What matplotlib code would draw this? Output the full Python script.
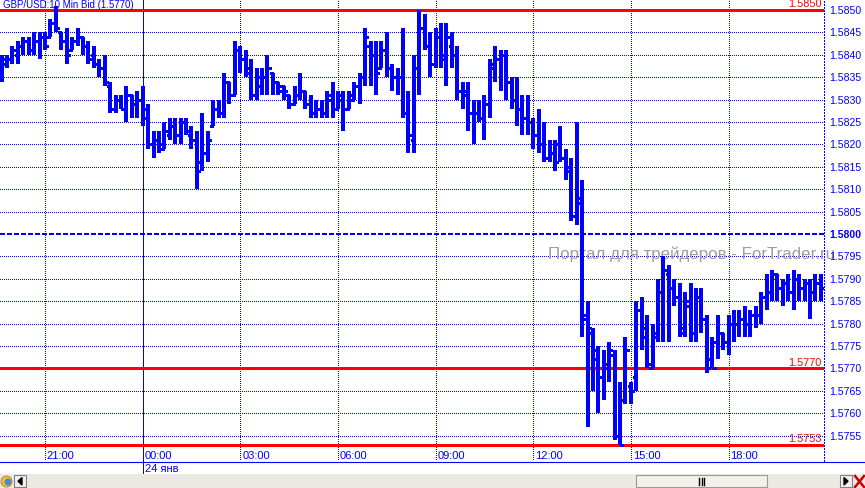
import matplotlib
matplotlib.use('Agg')
import matplotlib.pyplot as plt
import numpy as np
from matplotlib.patches import Rectangle, Polygon, Circle

plt.rcParams['font.family'] = ['Liberation Sans', 'DejaVu Sans']

# GBP/USD 10 min bid bars, 19:40 on 23 Jan to 20:50 on 24 Jan
# prices kept as pips above 1.5800
base = 1.5800
open_pips = [36, 38, 39, 40, 42, 43, 41, 43, 44, 44, 47, 45, 43, 41, 43, 44, 42, 40, 38, 37,
             33, 28, 30, 28, 31, 29, 30, 26, 20, 21, 19, 22, 24, 22, 25, 22, 21, 16, 18, 24,
             28, 27, 34, 31, 41, 39, 37, 31, 33, 35, 36, 34, 33, 31, 29, 31, 32, 29, 27, 28,
             27, 30, 28, 30, 28, 30, 33, 35, 42, 40, 37, 41, 37, 35, 35, 27, 21, 37, 46, 42,
             38, 44, 40, 42, 40, 32, 32, 27, 27, 26, 29, 38, 39, 40, 34, 30, 28, 26, 25, 22,
             20, 17, 18, 20, 17, 15, 4, 8, -18, -22, -28, -32, -29, -27, -45, -37, -34, -32, -17, -23,
             -30, -23, -13, -9, -12, -14, -21, -16, -22, -14, -19, -28, -24, -22, -24, -20, -20, -19, -20, -18,
             -18, -14, -13, -9, -12, -11, -13, -10, -12, -11, -13, -11]
high_pips = [40, 40, 42, 43, 44, 44, 45, 45, 45, 48, 51, 45, 46, 44, 46, 44, 43, 42, 39, 40,
             34, 31, 31, 33, 31, 32, 33, 29, 23, 23, 25, 26, 26, 26, 26, 24, 23, 27, 23, 30,
             30, 36, 34, 43, 42, 41, 39, 37, 37, 40, 36, 34, 33, 31, 33, 36, 32, 31, 30, 30,
             32, 34, 32, 32, 32, 34, 36, 46, 43, 43, 43, 45, 38, 37, 46, 32, 40, 50, 49, 45,
             46, 47, 47, 45, 42, 34, 34, 30, 30, 31, 39, 42, 41, 41, 35, 35, 31, 31, 26, 28,
             25, 21, 21, 24, 19, 17, 25, 12, -15, -21, -25, -26, -24, -26, -33, -23, -33, -15, -14, -18,
             -20, -10, -5, -7, -10, -11, -13, -11, -12, -12, -18, -23, -18, -22, -18, -17, -17, -16, -17, -16,
             -13, -9, -8, -9, -10, -9, -8, -9, -10, -10, -9, -9]
low_pips = [34, 37, 38, 38, 40, 40, 40, 39, 41, 44, 45, 41, 38, 41, 42, 40, 38, 37, 35, 33,
            27, 27, 28, 25, 26, 26, 24, 19, 17, 18, 19, 21, 20, 20, 22, 19, 10, 14, 16, 24,
            26, 26, 29, 31, 36, 35, 30, 30, 31, 31, 31, 31, 30, 28, 29, 30, 28, 26, 26, 26,
            26, 26, 28, 23, 28, 30, 29, 33, 33, 31, 37, 35, 32, 31, 26, 18, 18, 31, 41, 35,
            37, 37, 33, 37, 30, 28, 23, 20, 25, 21, 26, 34, 32, 30, 28, 24, 22, 22, 19, 18,
            16, 16, 14, 16, 12, 3, 2, -23, -43, -35, -40, -37, -33, -46, -47, -38, -38, -35, -26, -30,
            -30, -24, -24, -24, -16, -23, -23, -24, -24, -22, -31, -30, -28, -26, -27, -24, -23, -23, -23, -21,
            -20, -17, -15, -15, -16, -15, -17, -15, -15, -19, -15, -15]
close_pips = [39, 39, 41, 42, 43, 41, 43, 44, 42, 47, 46, 43, 40, 43, 44, 42, 39, 38, 37, 34,
              28, 30, 28, 31, 29, 30, 28, 20, 21, 20, 23, 24, 22, 25, 23, 21, 14, 18, 21, 28,
              27, 34, 31, 41, 39, 36, 31, 35, 35, 37, 34, 32, 32, 29, 31, 32, 29, 27, 28, 27,
              31, 28, 31, 28, 31, 33, 35, 44, 40, 36, 41, 37, 35, 35, 27, 22, 37, 46, 42, 38,
              44, 39, 44, 40, 32, 31, 27, 27, 26, 29, 37, 39, 40, 34, 30, 28, 26, 25, 22, 20,
              17, 18, 16, 17, 14, 4, 7, -19, -21, -26, -32, -30, -26, -45, -47, -26, -35, -17, -21, -29,
              -22, -13, -8, -12, -14, -22, -15, -22, -14, -19, -30, -30, -22, -24, -20, -20, -19, -20, -18, -18,
              -14, -13, -9, -12, -11, -13, -10, -12, -11, -13, -11, -12]

time_ticks = [8, 26, 44, 62, 80, 98, 116, 134]
time_labels = ['21:00', '00:00', '03:00', '06:00', '09:00', '12:00', '15:00', '18:00']
day_tick = 26
day_label = '24 янв'
price_ticks = [1.5755, 1.5760, 1.5765, 1.5770, 1.5775, 1.5780, 1.5785, 1.5790,
               1.5795, 1.5800, 1.5805, 1.5810, 1.5815, 1.5820, 1.5825, 1.5830,
               1.5835, 1.5840, 1.5845, 1.5850]
levels = [1.5850, 1.5770, 1.5753]
round_level = 1.5800
title = 'GBP/USD:10 Min Bid (1.5770)'
watermark = 'Портал для трейдеров - ForTrader.ru'

o = base + np.array(open_pips) / 1e4
h = base + np.array(high_pips) / 1e4
l = base + np.array(low_pips) / 1e4
c = base + np.array(close_pips) / 1e4
x = np.arange(len(o))

BLUE = '#0000ff'
W, H = 865, 488
step = 5.425          # pixels per bar
plot_w, plot_h = 824, 461
ppx = 44800           # pixels per 1.0 of price
px = 72 / 100         # one pixel in points

fig = plt.figure(figsize=(W / 100, H / 100), dpi=100)
fig.patch.set_facecolor('white')

# full-figure pixel overlay for the window furniture
ov = fig.add_axes([0, 0, 1, 1], zorder=3)
ov.set_xlim(0, W)
ov.set_ylim(H, 0)
ov.axis('off')
ov.patch.set_alpha(0)

ax = fig.add_axes([0, (H - plot_h) / H, plot_w / W, plot_h / H], zorder=2)
ax.set_xlim(-1.6 / step, (plot_w - 1.6) / step)
ax.set_ylim(1.5850 - (plot_h - 10) / ppx, 1.5850 + 10 / ppx)
for s in ['top', 'left', 'bottom']:
    ax.spines[s].set_visible(False)
ax.spines['right'].set_color(BLUE)
ax.spines['right'].set_linewidth(px)
ax.spines['right'].set_linestyle((0, (1, 2)))
ax.set_xticks([])

# horizontal grid
for p in price_ticks:
    if abs(p - round_level) < 1e-6:
        ax.axhline(p, color=BLUE, lw=2.5 * px, ls=(0, (1.8, 1.0)), zorder=1, antialiased=False)
    else:
        ax.axhline(p, color=BLUE, lw=px, ls=(0, (1, 2)), zorder=1, antialiased=False)

# vertical time grid, midnight drawn solid
for t in time_ticks:
    if t == day_tick:
        ax.axvline(t, ymin=-13 / plot_h, ymax=1, color=BLUE, lw=px, clip_on=False,
                   zorder=1, antialiased=False)
    else:
        ax.axvline(t, color=BLUE, lw=px, ls=(0, (1, 2)), zorder=1, antialiased=False)

for lv in levels:
    ax.axhline(lv, color='#ff0000', lw=2.6 * px, zorder=1.8, antialiased=False)
    ax.text(ax.get_xlim()[1] - 0.4, lv + 0.15 / 1e4, '%.4f' % lv, color='#ff0000',
            fontsize=7.8, ha='right', va='bottom', zorder=1.9)

ax.text(548, 259, watermark, transform=ov.transData, fontsize=12.2, color='#a39a9a',
        va='baseline', ha='left', zorder=1.5)

# OHLC bars
tick = 0.6
ax.vlines(x, l, h, color=BLUE, lw=3.5 * px, zorder=3, antialiased=False)
ax.hlines(o, x - tick, x, color=BLUE, lw=2.6 * px, zorder=3, antialiased=False)
ax.hlines(c, x, x + tick, color=BLUE, lw=2.6 * px, zorder=3, antialiased=False)

# price scale on the right
ax.yaxis.tick_right()
ax.set_yticks(price_ticks)
ax.set_yticklabels(['%.4f' % p for p in price_ticks])
ax.tick_params(axis='y', length=0, pad=4, labelsize=7.6, labelcolor=BLUE)
for lab, p in zip(ax.get_yticklabels(), price_ticks):
    if abs(p - round_level) < 1e-6:
        lab.set_fontweight('bold')

# time labels inside the bottom strip
for t, s in zip(time_ticks, time_labels):
    ax.text(t + 0.35, 5 / plot_h, s, transform=ax.get_xaxis_transform(), fontsize=8,
            color=BLUE, ha='left', va='center')
ax.text(day_tick + 0.35, -8 / plot_h, day_label, transform=ax.get_xaxis_transform(),
        fontsize=8, color=BLUE, ha='left', va='center', clip_on=False)

ov.text(3, 0.5, title, fontsize=7, color=BLUE, ha='left', va='top')

# axis base line and scroll bar
ov.plot([0, W], [461.5, 461.5], color=BLUE, lw=0.8)
ov.add_patch(Rectangle((0, 474), W, 14, facecolor='#ebe9e1', edgecolor='none'))
ov.add_patch(Rectangle((636, 475), 131, 12, facecolor='#f2f1ec', edgecolor='#9a9a96', lw=0.8))
for gx in [699, 701.5, 704]:
    ov.plot([gx, gx], [478, 484.5], color='black', lw=1.0)
ov.add_patch(Rectangle((14, 475), 12, 12, facecolor='#f2f1ec', edgecolor='#808080', lw=0.8))
ov.add_patch(Polygon([[22, 477.5], [22, 485], [18, 481.2]], closed=True, color='black'))
ov.add_patch(Rectangle((840, 475), 12, 12, facecolor='#f2f1ec', edgecolor='#808080', lw=0.8))
ov.add_patch(Polygon([[844, 477.5], [844, 485], [848, 481.2]], closed=True, color='black'))
ov.add_patch(Circle((6.5, 481.5), 5.5, facecolor='#f0c030', edgecolor='#b08020', lw=0.6))
ov.add_patch(Circle((8, 482), 3.5, facecolor='#4a8ad0', edgecolor='none'))
ov.plot([855, 864], [476, 487], color='#cc0000', lw=1.8)
ov.plot([855, 864], [487, 476], color='#cc0000', lw=1.8)

fig.savefig('out.png', dpi=100)
